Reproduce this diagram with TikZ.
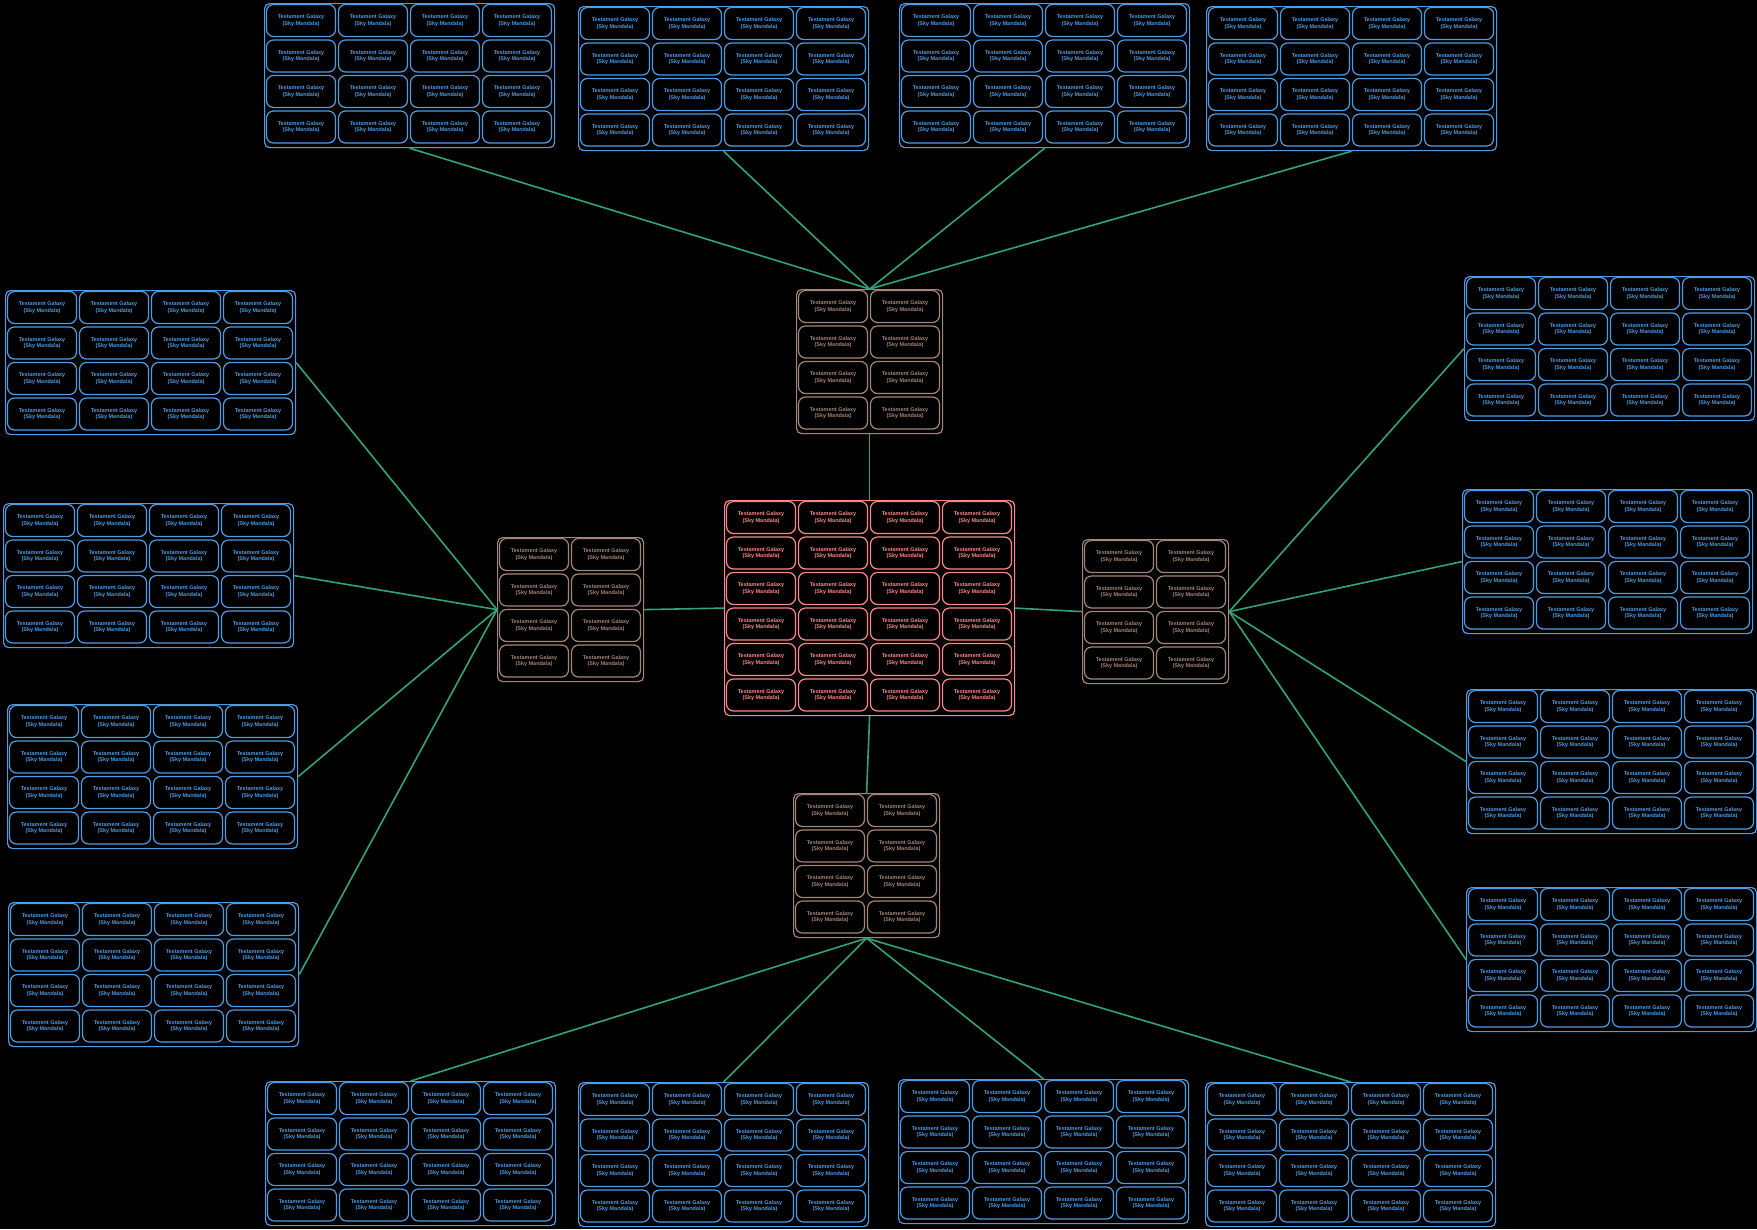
\documentclass[tikz,border=0pt]{standalone}
\usepackage{fontspec}
\setmainfont{Liberation Sans}
\definecolor{blu}{HTML}{4A9DE6}
\definecolor{pnk}{HTML}{FF8787}
\definecolor{brn}{HTML}{A4857A}
\definecolor{grn}{HTML}{2EA37E}
\tikzset{
  cellbox/.style={draw=#1, text=#1, rounded corners=7bp, line width=1.2bp,
    minimum width=69bp, minimum height=32bp, inner sep=0pt, align=center,
    font=\fontsize{5.5}{6.5}\selectfont\bfseries},
  groupbox/.style={draw=#1, rounded corners=5bp, line width=1.2bp, inner sep=0pt},
  conn/.style={draw=grn, line width=1.6bp}
}
\newcommand\mkgroup[6]{%
  \node[groupbox=#6, minimum width={(#4*72+2)*1bp}, minimum height={(#5*35.5+2)*1bp}, anchor=north west] (#1) at (#2,#3) {};
  \foreach \i in {1,...,#4}{\foreach \j in {1,...,#5}{
    \node[cellbox=#6] (#1-\i-\j) at ({#2+37+72*(\i-1)},{#3+17.5+35.5*(\j-1)}) {Testament Galaxy\\(Sky Mandala)};
  }}%
}
\begin{document}
\begin{tikzpicture}[x=1bp,y=-1bp]
\fill[black] (0,0) rectangle (1757,1229);
\useasboundingbox (0,0) rectangle (1757,1229);
% centre and brown hubs
\mkgroup{pk}{724}{500}{4}{6}{pnk}
\mkgroup{bt}{796}{289}{2}{4}{brn}
\mkgroup{bb}{793}{793}{2}{4}{brn}
\mkgroup{bl}{497}{537}{2}{4}{brn}
\mkgroup{br}{1082}{539}{2}{4}{brn}
% top blue
\mkgroup{t1}{264}{3}{4}{4}{blu}
\mkgroup{t2}{578}{6}{4}{4}{blu}
\mkgroup{t3}{899}{3}{4}{4}{blu}
\mkgroup{t4}{1206}{6}{4}{4}{blu}
% bottom blue
\mkgroup{b1}{265}{1081}{4}{4}{blu}
\mkgroup{b2}{578}{1082}{4}{4}{blu}
\mkgroup{b3}{898}{1079}{4}{4}{blu}
\mkgroup{b4}{1205}{1082}{4}{4}{blu}
% left blue
\mkgroup{l1}{5}{290}{4}{4}{blu}
\mkgroup{l2}{3}{503}{4}{4}{blu}
\mkgroup{l3}{7}{704}{4}{4}{blu}
\mkgroup{l4}{8}{902}{4}{4}{blu}
% right blue
\mkgroup{r1}{1464}{276}{4}{4}{blu}
\mkgroup{r2}{1462}{489}{4}{4}{blu}
\mkgroup{r3}{1466}{689}{4}{4}{blu}
\mkgroup{r4}{1466}{887}{4}{4}{blu}
% connectors
\draw[conn] (pk.north) -- (bt.south);
\draw[conn] (pk.south) -- (bb.north);
\draw[conn] (pk.west) -- (bl.east);
\draw[conn] (pk.east) -- (br.west);
\foreach \g in {t1,t2,t3,t4}{\draw[conn] (bt.north) -- (\g.south);}
\foreach \g in {b1,b2,b3,b4}{\draw[conn] (bb.south) -- (\g.north);}
\foreach \g in {l1,l2,l3,l4}{\draw[conn] (bl.west) -- (\g.east);}
\foreach \g in {r1,r2,r3,r4}{\draw[conn] (br.east) -- (\g.west);}
\end{tikzpicture}
\end{document}
